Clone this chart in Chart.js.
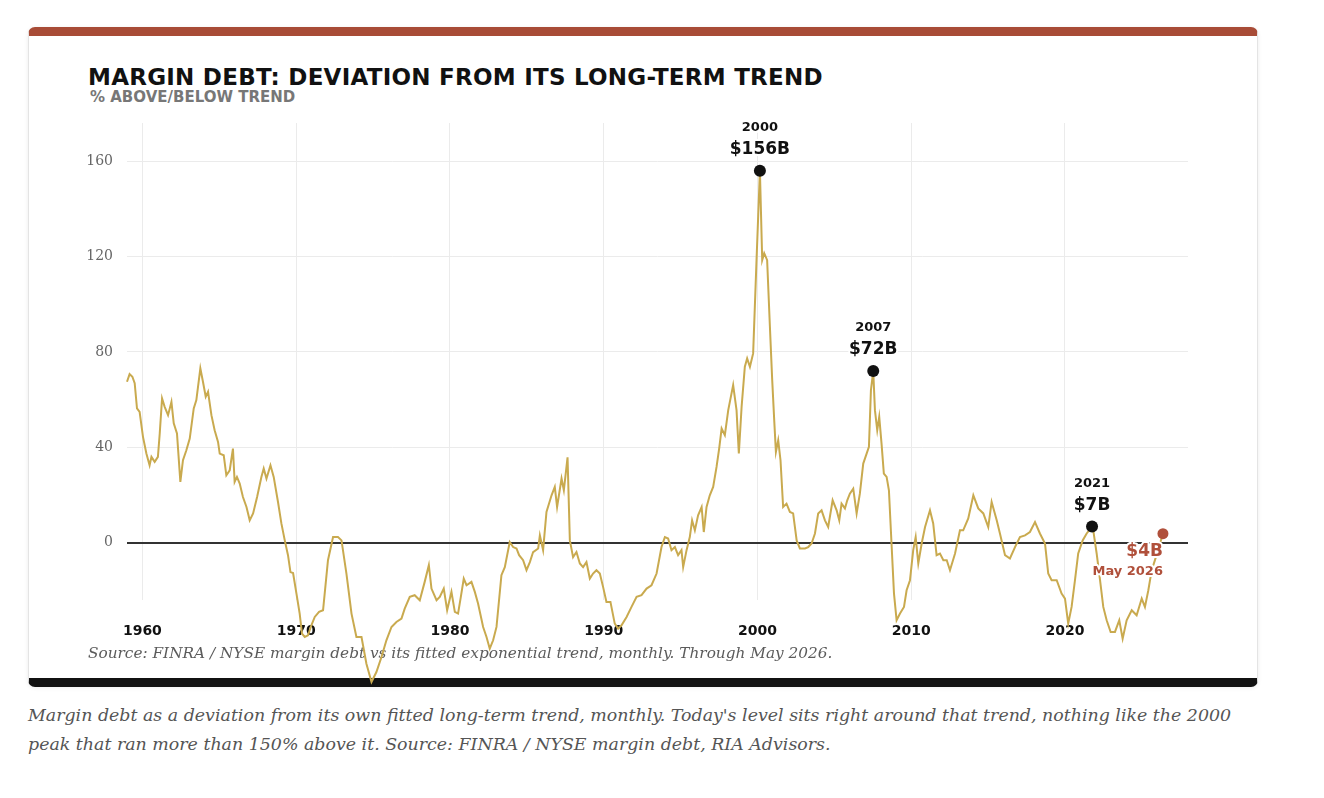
<!DOCTYPE html>
<html lang="en">
<head>
  <meta charset="UTF-8" />
  <title>Margin debt: deviation from its long-term trend</title>
  <style>
    body { margin: 0; background: #fff; }
    .card {
      position: absolute; left: 28px; top: 27px; width: 1230px; height: 660px;
      box-sizing: border-box; background: #fff;
      border: 1px solid #e4e4e4; border-top: 9px solid #a84c37; border-bottom: 9px solid #111;
      border-radius: 7px; box-shadow: 0 1px 4px rgba(0,0,0,0.08);
    }
    .title {
      position: absolute; left: 88px; top: 64px; margin: 0;
      font: bold 23px "DejaVu Sans", sans-serif; letter-spacing: 0.25px; line-height: 26px; color: #111;
    }
    .subtitle {
      position: absolute; left: 90px; top: 89px;
      font: bold 15px "DejaVu Sans", sans-serif; line-height: 16px; color: #777;
    }
    .wrap { position: absolute; left: 28px; top: 27px; width: 1230px; height: 662px; z-index: 2; }
    .caption {
      position: absolute; left: 28px; top: 701px; margin: 0; width: 1290px;
      font: italic 17.4px "DejaVu Serif", serif; line-height: 29px; color: #555;
    }
  </style>
</head>
<body>
  <div class="card"></div>
  <h1 class="title">MARGIN DEBT: DEVIATION FROM ITS LONG-TERM TREND</h1>
  <div class="subtitle">% ABOVE/BELOW TREND</div>
  <div class="wrap"><canvas id="myChart" width="1230" height="662"></canvas></div>
  <p class="caption">Margin debt as a deviation from its own fitted long-term trend, monthly. Today's level sits right around that trend, nothing like the 2000<br>peak that ran more than 150% above it. Source: FINRA / NYSE margin debt, RIA Advisors.</p>

  <script src="https://cdn.jsdelivr.net/npm/chart.js"></script>
  <script>
    const ctx = document.getElementById('myChart');

// decimal years and % above/below the fitted trend
const dateYears = [
  1959.00, 1959.17, 1959.35, 1959.50, 1959.65, 1959.82, 1960.04, 1960.26, 1960.47, 1960.59,
  1960.80, 1961.01, 1961.13, 1961.28, 1961.45, 1961.67, 1961.89, 1962.04, 1962.25, 1962.47,
  1962.64, 1962.86, 1963.08, 1963.34, 1963.51, 1963.77, 1963.94, 1964.12, 1964.27, 1964.49,
  1964.70, 1964.92, 1965.03, 1965.29, 1965.46, 1965.68, 1965.89, 1966.00, 1966.15, 1966.33,
  1966.54, 1966.77, 1966.98, 1967.20, 1967.46, 1967.74, 1967.89, 1968.07, 1968.33, 1968.54,
  1968.82, 1969.04, 1969.26, 1969.47, 1969.63, 1969.80, 1970.02, 1970.23, 1970.38, 1970.56,
  1970.77, 1970.99, 1971.21, 1971.49, 1971.75, 1972.07, 1972.40, 1972.72, 1972.95, 1973.27,
  1973.60, 1973.92, 1974.25, 1974.57, 1974.90, 1975.22, 1975.55, 1975.87, 1976.20, 1976.52,
  1976.85, 1977.06, 1977.39, 1977.71, 1978.04, 1978.36, 1978.63, 1978.80, 1979.13, 1979.34,
  1979.60, 1979.82, 1980.10, 1980.32, 1980.53, 1980.71, 1980.90, 1981.08, 1981.40, 1981.62,
  1981.83, 1982.16, 1982.38, 1982.59, 1982.81, 1983.03, 1983.35, 1983.57, 1983.89, 1984.11,
  1984.33, 1984.50, 1984.76, 1984.98, 1985.20, 1985.41, 1985.74, 1985.85, 1986.06, 1986.28,
  1986.61, 1986.82, 1986.97, 1987.26, 1987.41, 1987.65, 1987.80, 1988.01, 1988.23, 1988.45,
  1988.66, 1988.88, 1989.10, 1989.31, 1989.53, 1989.75, 1989.96, 1990.18, 1990.44, 1990.72,
  1990.94, 1991.16, 1991.49, 1991.81, 1992.14, 1992.46, 1992.79, 1993.11, 1993.44, 1993.76,
  1993.98, 1994.19, 1994.41, 1994.63, 1994.84, 1995.06, 1995.17, 1995.39, 1995.60, 1995.75,
  1995.93, 1996.14, 1996.37, 1996.51, 1996.69, 1996.90, 1997.12, 1997.34, 1997.51, 1997.67,
  1997.88, 1998.10, 1998.42, 1998.64, 1998.79, 1998.97, 1999.18, 1999.33, 1999.51, 1999.72,
  1999.94, 2000.16, 2000.31, 2000.44, 2000.63, 2000.81, 2000.96, 2001.09, 2001.20, 2001.35,
  2001.50, 2001.67, 2001.89, 2002.11, 2002.32, 2002.55, 2002.76, 2003.09, 2003.30, 2003.52,
  2003.74, 2003.95, 2004.17, 2004.39, 2004.60, 2004.89, 2005.15, 2005.32, 2005.47, 2005.69,
  2005.84, 2006.01, 2006.23, 2006.45, 2006.66, 2006.88, 2007.10, 2007.25, 2007.38, 2007.53,
  2007.64, 2007.79, 2007.92, 2008.07, 2008.22, 2008.40, 2008.55, 2008.73, 2008.88, 2009.05,
  2009.27, 2009.53, 2009.70, 2009.92, 2010.13, 2010.29, 2010.46, 2010.68, 2010.90, 2011.22,
  2011.43, 2011.65, 2011.87, 2012.09, 2012.31, 2012.52, 2012.85, 2013.17, 2013.38, 2013.71,
  2014.04, 2014.36, 2014.69, 2015.01, 2015.23, 2015.56, 2015.77, 2016.10, 2016.42, 2016.75,
  2017.07, 2017.40, 2017.72, 2018.05, 2018.37, 2018.70, 2018.91, 2019.13, 2019.46, 2019.78,
  2020.00, 2020.21, 2020.43, 2020.65, 2020.86, 2021.15, 2021.41, 2021.76, 2021.84, 2022.06,
  2022.28, 2022.49, 2022.71, 2022.97, 2023.25, 2023.53, 2023.75, 2024.01, 2024.34, 2024.66,
  2024.99, 2025.20, 2025.42, 2025.64, 2025.85, 2026.37
];
const pctVsTrend = [
  67.5, 70.7, 69.6, 66.9, 56.3, 54.9, 44.4, 37.4, 32.5, 36.0,
  33.9, 36.0, 45.9, 60.5, 57.0, 53.5, 59.1, 50.1, 45.8, 25.5,
  34.6, 38.8, 43.7, 56.3, 59.8, 73.1, 67.5, 61.2, 63.3, 53.5,
  47.2, 42.3, 37.4, 36.7, 28.3, 30.4, 39.5, 25.5, 27.6, 24.8,
  19.2, 15.0, 9.4, 12.3, 19.2, 27.6, 31.1, 26.9, 32.5, 27.6,
  17.1, 8.1, 1.0, -5.2, -12.3, -12.7, -21.3, -29.7, -38.1, -39.5,
  -38.8, -34.6, -31.1, -29.0, -28.3, -7.3, 2.4, 2.4, 1.0, -12.9,
  -29.7, -39.5, -39.5, -50.7, -58.4, -54.2, -47.9, -40.9, -35.3, -33.2,
  -31.8, -27.6, -22.7, -22.0, -24.1, -16.4, -9.4, -19.2, -24.1, -22.7,
  -19.2, -28.3, -20.6, -29.0, -29.7, -22.7, -15.0, -17.8, -16.4, -20.6,
  -25.5, -35.3, -39.5, -44.4, -40.9, -35.3, -13.6, -10.2, 0.3, -1.8,
  -2.4, -5.2, -7.3, -11.5, -8.1, -3.9, -2.4, 3.1, -3.1, 12.9,
  19.9, 23.4, 15.0, 26.9, 22.0, 35.8, 1.0, -6.0, -3.9, -8.7,
  -10.2, -8.1, -15.0, -12.9, -11.5, -12.9, -18.5, -24.8, -24.8, -33.9,
  -36.0, -34.6, -31.1, -26.9, -22.7, -22.0, -19.2, -17.8, -12.9, -1.8,
  2.4, 1.8, -3.1, -1.8, -5.2, -3.1, -10.2, -3.1, 2.4, 9.4,
  5.2, 11.5, 15.0, 4.5, 15.0, 19.9, 23.4, 31.8, 39.5, 47.9,
  45.1, 55.6, 66.1, 55.6, 37.4, 57.0, 73.8, 77.3, 73.8, 79.4,
  118.5, 156.0, 118.5, 121.4, 118.5, 90.6, 68.2, 51.4, 38.1, 43.0,
  34.6, 15.0, 16.4, 12.9, 12.3, 1.0, -2.4, -2.4, -1.8, -0.3,
  3.9, 12.3, 13.6, 9.4, 6.6, 17.8, 13.6, 9.4, 16.4, 14.4,
  17.8, 20.6, 22.7, 12.3, 20.6, 33.2, 37.4, 40.2, 64.0, 72.0,
  55.6, 47.2, 52.8, 41.6, 29.0, 27.6, 22.0, -1.8, -21.3, -32.5,
  -29.7, -26.9, -19.9, -15.7, -3.1, 2.4, -8.7, -0.3, 6.6, 13.6,
  8.1, -5.2, -4.5, -7.3, -7.3, -11.5, -4.5, 5.2, 5.2, 10.2,
  19.9, 14.4, 12.3, 6.6, 17.1, 9.4, 3.9, -5.2, -6.6, -1.8,
  2.4, 3.1, 4.5, 8.7, 3.9, -0.3, -12.9, -15.7, -15.7, -21.3,
  -23.4, -33.9, -26.9, -15.7, -4.5, 1.0, 3.9, 6.8, 5.2, -4.5,
  -15.7, -26.9, -32.5, -37.4, -37.4, -32.5, -40.2, -32.5, -28.3, -30.4,
  -23.4, -26.9, -19.9, -11.5, -7.3, 3.8
];

// labelled peaks
const peakYears = [2000.16, 2007.53, 2021.76];
const peakValues = [156, 72, 6.8];
const peakYearLabels = ['2000', '2007', '2021'];
const peakAmountLabels = ['$156B', '$72B', '$7B'];

// latest reading
const latestYear = 2026.37;
const latestValue = 3.8;
const latestAmountLabel = '$4B';
const latestDateLabel = 'May 2026';

const xTicks = [1960, 1970, 1980, 1990, 2000, 2010, 2020];
const yTicks = [0, 40, 80, 120, 160];

const sourceNote = 'Source: FINRA / NYSE margin debt vs its fitted exponential trend, monthly. Through May 2026.';

const GOLD = '#c9aa4f';
const RUST = '#b0503b';

function haloText(c, text, x, y, font, color, align) {
  c.font = font;
  c.textAlign = align || 'center';
  c.textBaseline = 'middle';
  c.lineJoin = 'round';
  c.lineWidth = 4;
  c.strokeStyle = '#fff';
  c.strokeText(text, x, y);
  c.fillStyle = color;
  c.fillText(text, x, y);
}

const notes = {
  id: 'notes',
  beforeDatasetsDraw(chart) {
    const c = chart.ctx;
    c.save();
    c.font = 'italic 15.3px "DejaVu Serif", serif';
    c.fillStyle = '#5b5b5b';
    c.textAlign = 'left';
    c.textBaseline = 'middle';
    c.fillText(sourceNote, 60, 627);
    c.restore();
  },
  afterDatasetsDraw(chart) {
    const c = chart.ctx;
    const {x, y} = chart.scales;
    c.save();
    peakYears.forEach((yr, i) => {
      const px = x.getPixelForValue(yr);
      const py = y.getPixelForValue(peakValues[i]);
      haloText(c, peakYearLabels[i], px, py - 43, 'bold 13px "DejaVu Sans"', '#111');
      haloText(c, peakAmountLabels[i], px, py - 21, 'bold 17px "DejaVu Sans"', '#111');
    });
    const lx = x.getPixelForValue(latestYear);
    const ly = y.getPixelForValue(latestValue);
    haloText(c, latestAmountLabel, lx, ly + 18, 'bold 17px "DejaVu Sans"', RUST, 'right');
    haloText(c, latestDateLabel, lx, ly + 38, 'bold 13px "DejaVu Sans"', RUST, 'right');
    c.restore();
  }
};

const data = {
  datasets: [
    {
      label: 'Peaks',
      data: peakYears.map((yr, i) => ({x: yr, y: peakValues[i]})),
      pointRadius: 6,
      pointBackgroundColor: '#111',
      pointBorderWidth: 0,
      order: 0,
      clip: false
    },
    {
      label: 'Latest',
      data: [{x: latestYear, y: latestValue}],
      pointRadius: 5.5,
      pointBackgroundColor: RUST,
      pointBorderWidth: 0,
      order: 0,
      clip: false
    },
    {
      label: 'Margin debt vs trend',
      data: dateYears.map((yr, i) => ({x: yr, y: pctVsTrend[i]})),
      showLine: true,
      borderColor: GOLD,
      borderWidth: 2,
      pointRadius: 0,
      tension: 0,
      order: 1,
      clip: false
    }
  ]
};

    new Chart(ctx, {
      type: 'scatter',
      data: data,
      plugins: [notes],
      options: {
        responsive: false,
        animation: false,
        devicePixelRatio: 1,
        layout: { padding: { top: 96, right: 70, left: 0, bottom: 0 } },
        plugins: {
          legend: { display: false },
          tooltip: { enabled: false }
        },
        scales: {
          x: {
            type: 'linear',
            min: 1959,
            max: 2028,
            afterBuildTicks: (scale) => { scale.ticks = xTicks.map(v => ({value: v})); },
            afterFit: (scale) => { scale.height = 89; },
            border: { display: false },
            grid: { color: '#ebebeb', drawTicks: false },
            ticks: {
              padding: 23,
              color: '#111',
              font: { family: 'DejaVu Sans', size: 14, weight: 'bold' },
              callback: (v) => String(v)
            }
          },
          y: {
            min: -24,
            max: 176,
            afterBuildTicks: (scale) => { scale.ticks = yTicks.map(v => ({value: v})); },
            afterFit: (scale) => { scale.width = 99; },
            border: { display: false },
            grid: {
              drawTicks: false,
              color: (c) => (c.tick && c.tick.value === 0 ? '#333' : '#ebebeb'),
              lineWidth: (c) => (c.tick && c.tick.value === 0 ? 2 : 1)
            },
            ticks: {
              padding: 14,
              color: '#666',
              font: { family: 'DejaVu Serif', size: 14 }
            }
          }
        }
      }
    });
  </script>
</body>
</html>
